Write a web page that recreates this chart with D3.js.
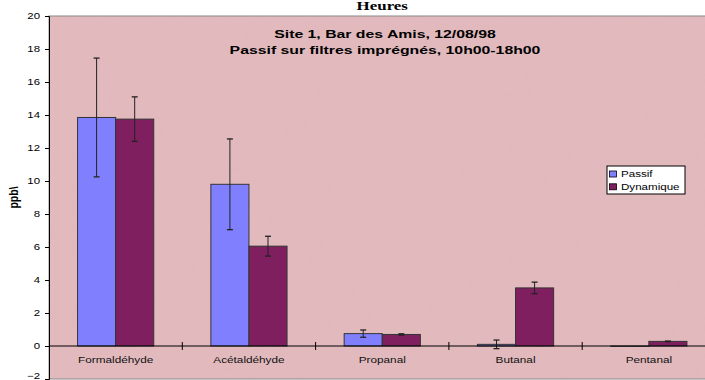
<!DOCTYPE html>
<html><head><meta charset="utf-8">
<script src="https://cdn.jsdelivr.net/npm/d3@7"></script>
<style>body{margin:0;background:#fff;overflow:hidden}svg{display:block}</style>
</head><body>
<script>
const categories = ["Formaldéhyde","Acétaldéhyde","Propanal","Butanal","Pentanal"];
const seriesNames = ["Passif","Dynamique"];
const passif = [13.85, 9.8, 0.75, 0.1, -0.02];
const passifErr = [3.6, 2.75, 0.22, 0.26, 0];
const dynamique = [13.75, 6.05, 0.7, 3.52, 0.28];
const dynamiqueErr = [1.35, 0.6, 0.04, 0.35, 0.02];
const yTicks = [-2,0,2,4,6,8,10,12,14,16,18,20];
const title = "Heures";
const subtitle = ["Site 1, Bar des Amis, 12/08/98","Passif sur filtres imprégnés, 10h00-18h00"];
const yLabel = "ppb\\";

(function(){
const W=705,H=380;
const svg=d3.select("body").append("svg").attr("width",W).attr("height",H);
const pL=49, pR=715.5, pT=16, pB=379;
const x=d3.scaleBand().domain(categories).range([pL,pR]).paddingInner(0).paddingOuter(0);
const y=d3.scaleLinear().domain([-2,20]).range([pB,pT]);
const sub=d3.scaleBand().domain(seriesNames).range([0,x.bandwidth()]).paddingInner(0).paddingOuter(0.75);
const colors={Passif:"#8080ff",Dynamique:"#801f60"};
const font="Arial, 'Liberation Sans', sans-serif";

const defs=svg.append("defs");
const f=defs.append("filter").attr("id","tex").attr("x",0).attr("y",0).attr("width","100%").attr("height","100%");
f.append("feTurbulence").attr("type","fractalNoise").attr("baseFrequency","0.12").attr("numOctaves",3).attr("seed",7).attr("result","n");
f.append("feColorMatrix").attr("in","n").attr("type","matrix")
  .attr("values","0 0 0 0 0.7  0 0 0 0 0.4  0 0 0 0 0.45  1.2 0 0 0 -0.5").attr("result","c");
f.append("feComposite").attr("in","c").attr("in2","SourceGraphic").attr("operator","in");

svg.append("rect").attr("x",pL).attr("y",pT).attr("width",pR-pL).attr("height",pB-pT)
  .attr("fill","#e2babd");
svg.append("rect").attr("x",pL).attr("y",pT).attr("width",pR-pL).attr("height",pB-pT)
  .attr("fill","#e2babd").attr("filter","url(#tex)").attr("opacity",0.18);
svg.append("rect").attr("x",pL).attr("y",pT).attr("width",pR-pL).attr("height",pB-pT)
  .attr("fill","none").attr("stroke","#888").attr("stroke-width",1);

function stext(parent, tx, ty, sx, txt, opts){
  const gg=parent.append("g").attr("transform",`translate(${tx},${ty}) scale(${sx},1)`);
  return gg.append("text").attr("x",0).attr("y",0).attr("text-anchor",opts.anchor||"middle")
    .attr("font-family",opts.family||font).attr("font-size",opts.size+"px")
    .attr("font-weight",opts.weight||"normal").attr("fill",opts.fill||"#000").text(txt);
}

const data=[];
categories.forEach((c,i)=>{
  data.push({c,s:"Passif",v:passif[i],e:passifErr[i]});
  data.push({c,s:"Dynamique",v:dynamique[i],e:dynamiqueErr[i]});
});
const g=svg.append("g");
g.selectAll("rect.bar").data(data).join("rect").attr("class","bar")
  .attr("x",d=>x(d.c)+sub(d.s)).attr("width",sub.bandwidth())
  .attr("y",d=>y(Math.max(0,d.v))).attr("height",d=>Math.abs(y(d.v)-y(0)))
  .attr("fill",d=>colors[d.s]).attr("stroke","#333").attr("stroke-width",1);

const cx=d=>x(d.c)+sub(d.s)+sub.bandwidth()/2;
const eb=g.selectAll("g.err").data(data.filter(d=>d.e>0)).join("g").attr("class","err");
eb.append("line").attr("x1",cx).attr("x2",cx)
  .attr("y1",d=>y(d.v+d.e)).attr("y2",d=>y(d.v-d.e)).attr("stroke","#222").attr("stroke-width",1);
[1,-1].forEach(sg=>{
  eb.append("line").attr("x1",d=>cx(d)-3).attr("x2",d=>cx(d)+3)
    .attr("y1",d=>y(d.v+sg*d.e)).attr("y2",d=>y(d.v+sg*d.e)).attr("stroke","#222").attr("stroke-width",1.3);
});

const ya=svg.append("g").attr("transform",`translate(${pL},0)`)
  .call(d3.axisLeft(y).tickValues(yTicks).tickSize(4).tickFormat(""));
ya.select(".domain").attr("stroke","#000");
ya.selectAll("line").attr("stroke","#000");
yTicks.forEach(v=>{
  stext(svg, pL-9, Math.min(y(v)+3.2, 378.5), 1.27, d3.format("d")(v), {anchor:"end", size:9});
});

const xa=svg.append("g").attr("transform",`translate(0,${y(0)})`);
xa.append("line").attr("x1",pL).attr("x2",pR).attr("stroke","#000");
xa.selectAll("line.t").data(categories.slice(1)).join("line").attr("class","t")
  .attr("x1",d=>x(d)).attr("x2",d=>x(d)).attr("y1",-4).attr("y2",4).attr("stroke","#000");
categories.forEach(c=>{
  stext(svg, x(c)+x.bandwidth()/2, y(0)+16.5, 1.24, c, {size:9.5, fill:"#111"});
});

stext(svg, (pL+pR)/2, 10, 1.3, title, {family:"'Times New Roman','Liberation Serif',serif", weight:"bold", size:13});
subtitle.forEach((t,i)=>stext(svg, 385, 37.7+i*16, 1.58, t, {weight:"bold", size:10}));

svg.append("g").attr("transform",`translate(18,${(pT+pB)/2}) scale(1.3,1)`)
  .append("text").attr("transform","rotate(-90)").attr("text-anchor","middle")
  .attr("font-family",font).attr("font-weight","bold").attr("font-size","10.5px").text(yLabel);

const lg=svg.append("g").attr("transform","translate(607,166)");
lg.append("rect").attr("width",78).attr("height",28).attr("fill","#fff").attr("stroke","#000");
seriesNames.forEach((s,i)=>{
  lg.append("rect").attr("x",2.5).attr("y",5+i*12.8).attr("width",7).attr("height",6).attr("fill",colors[s]).attr("stroke","#000").attr("stroke-width",0.8);
  stext(lg, 14, 11+i*13, 1.22, s, {anchor:"start", size:9.5});
});
})();
</script>
</body></html>
